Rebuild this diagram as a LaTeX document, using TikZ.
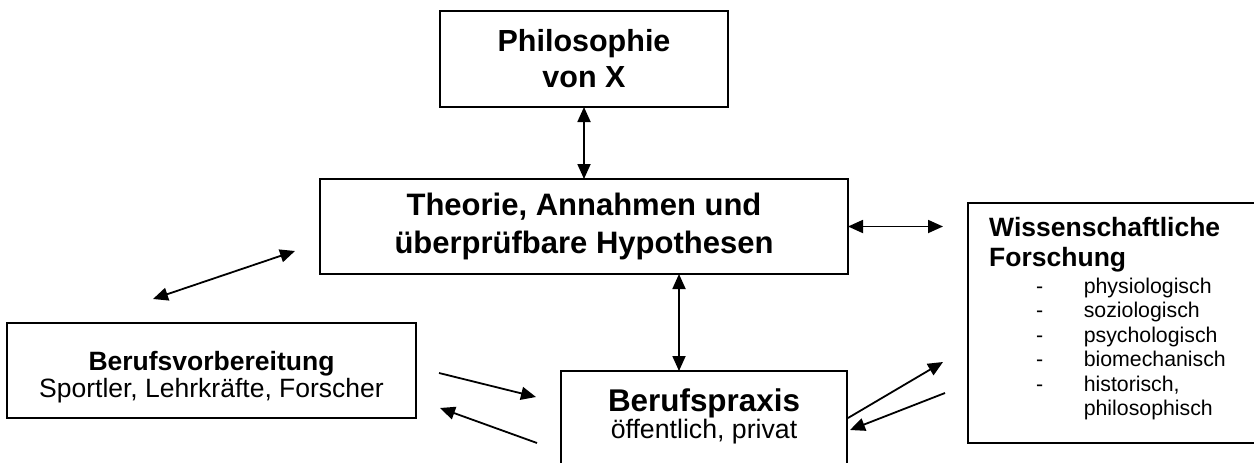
\documentclass[tikz,border=0pt]{standalone}
\usepackage{fontspec}
\setmainfont{Liberation Sans}
\usetikzlibrary{positioning, calc, arrows.meta}

\tikzset{
    box/.style={draw, line width=2.4pt, outer sep=0pt, inner sep=0pt},
    txt/.style={inner sep=0pt, align=center},
}

\begin{document}
\begin{tikzpicture}[x=1pt, y=-1pt, >={Triangle[length=15pt, width=13pt]}]
    \useasboundingbox (0,0) rectangle (1254,463);
    \clip (0,0) rectangle (1254,463);

    \node[box, minimum width=288pt, minimum height=96pt, align=center, font=\fontsize{30.5}{36}\selectfont\bfseries] (phil) at (584,59) {Philosophie\\von X};
    \node[box, minimum width=528pt, minimum height=95pt, below=72pt of phil, align=center, font=\fontsize{31}{37.5}\selectfont\bfseries] (theo) {Theorie, Annahmen und\\überprüfbare Hypothesen};

    \node[box, minimum width=409pt, minimum height=95pt] (vorb) at (211.5,370.5) {};
    \node[txt, font=\fontsize{26.5}{26.5}\selectfont] (vorbtext) at (211.5,377) {\textbf{Berufsvorbereitung}\\Sportler, Lehrkräfte, Forscher};

    \node[box, minimum width=286pt, minimum height=140pt, anchor=north west] (praxis) at (561,371) {};
    \node[txt, below=18pt of praxis.north, font=\fontsize{26.7}{27}\selectfont] (praxistext) {{\fontsize{31.4}{27}\selectfont\bfseries Berufspraxis}\\öffentlich, privat};

    \node[box, minimum width=322pt, minimum height=240pt, anchor=north west] (wiss) at (968,203) {};
    \node[anchor=north west, inner sep=0pt, align=left, font=\fontsize{26.5}{30}\selectfont\bfseries] (wisstitle) at (989,217.5) {Wissenschaftliche\\Forschung};
    \node[anchor=base west, inner sep=0pt, font=\fontsize{21.3}{24.5}\selectfont] (wisslist) at (989,293) {\begin{tabular}[t]{@{\hspace{47pt}}l@{\hspace{40.5pt}}l@{}}
        - & physiologisch\\
        - & soziologisch\\
        - & psychologisch\\
        - & biomechanisch\\
        - & historisch,\\
          & philosophisch
    \end{tabular}};

    % free arrow ends
    \coordinate (d1) at (153,299);
    \coordinate (d2) at (295,251);
    \coordinate (v1) at (439,373);
    \coordinate (v2) at (536,397);
    \coordinate (p1) at (537,443);
    \coordinate (p2) at (440,408);
    \coordinate (q1) at (848,418);
    \coordinate (q2) at (943,362);
    \coordinate (q3) at (945,393);
    \coordinate (q4) at (850,430);

    \draw[<->, line width=1.8pt] (phil) -- (theo);
    \draw[<->, line width=1.8pt] ([xshift=95pt]theo.south) -- ([xshift=95pt]theo.south |- praxis.north);
    \draw[<->, line width=1.8pt, shorten >=25pt] (theo.east) -- (theo.east -| wiss.west);
    \draw[<->, line width=1.8pt] (d1) -- (d2);
    \draw[->, line width=1.8pt] (v1) -- (v2);
    \draw[->, line width=1.8pt] (p1) -- (p2);
    \draw[->, line width=1.8pt] (q1) -- (q2);
    \draw[->, line width=1.8pt] (q3) -- (q4);

\end{tikzpicture}
\end{document}
